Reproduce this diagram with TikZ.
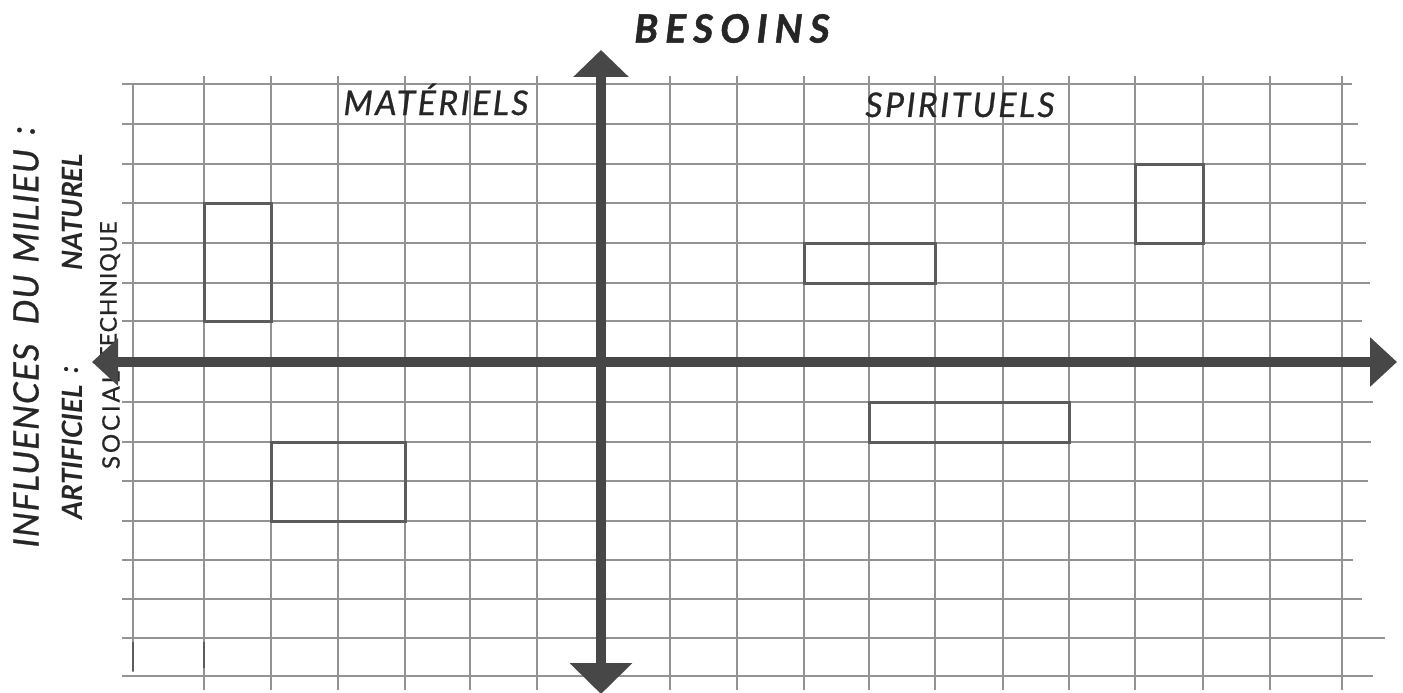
\documentclass[tikz,border=0pt]{standalone}
\usepackage{fontspec}
\setmainfont{Lato}
\newfontfamily\medfont[FakeBold=0.7]{Lato}
\newfontfamily\heavyfont[FakeBold=1.2]{Lato}
\usetikzlibrary{arrows.meta}
\definecolor{gridc}{HTML}{939393}
\definecolor{boxc}{HTML}{5C5C5C}
\definecolor{axisc}{HTML}{474747}
\definecolor{inkc}{HTML}{262626}
\newcommand{\fsz}[1]{\fontsize{#1}{#1}\selectfont}
\begin{document}
\begin{tikzpicture}[x=1pt,y=-1pt,
  gridline/.style={draw=gridc,line width=1.2pt},
  boxline/.style={draw=boxc,line width=3pt},
  axisline/.style={draw=axisc,line width=10pt},
  txt/.style={inner sep=0pt,text=inkc},
  bigit/.style={txt,font=\medfont\fsz{35}\itshape\addfontfeature{LetterSpace=3},rotate=90},
  midbi/.style={txt,font=\fsz{28}\bfseries\itshape,rotate=90},
  smallup/.style={txt,font=\medfont\fsz{23}\addfontfeature{LetterSpace=4},rotate=90},
  head/.style={txt,font=\medfont\fsz{34}\itshape\addfontfeature{LetterSpace=7},anchor=base}]
\useasboundingbox (0,0) rectangle (1403,693);
\fill[white] (0,0) rectangle (1403,693);
% grid
\foreach \y/\r in {84/1352,124/1358,164/1366,203/1366,243/1366,283/1370,321/1362,402/1373,442/1371,481/1368,521/1366,560/1353,599/1362,638/1385,676/1373}
  \draw[gridline] (122,\y) -- (\r,\y);
\foreach \x in {204,271,338,405,470,537,670,737,804,869,935,1003,1069,1135,1203,1270,1342}
  \draw[gridline] (\x,76) -- (\x,690);
\draw[gridline] (133,84) -- (133,672);
\draw[boxc,line width=2pt] (133,642) -- (133,671);
\draw[boxc,line width=2pt] (204,642) -- (204,668);
% boxes
\draw[boxline] (204,203) rectangle (271,321);
\draw[boxline] (271,442) rectangle (405,521);
\draw[boxline] (804,243) rectangle (935,283);
\draw[boxline] (1135,164) rectangle (1203,243);
\draw[boxline] (869,402) rectangle (1069,442);
% texts
\node[txt,font=\heavyfont\fsz{39}\bfseries\itshape] (besoins) at (732,28.5)
  {B\kern7pt E\kern7pt S\kern7pt O\kern7pt I\kern7pt N\kern7pt S};
\node[head] (mat) at (436,115) {MATÉRIELS};
\node[head] (spi) at (960,117) {SPIRITUELS};
\node[bigit] (infl) at (26,445.5) {INFLUENCES};
\node[bigit] (du) at (26,299.5) {DU};
\node[bigit] (milieu) at (26,206) {MILIEU};
\node[bigit] (col1) at (26,130.5) {:};
\node[midbi] (nat) at (72,212) {NATUREL};
\node[midbi] (art) at (72,452) {ARTIFICIEL};
\node[midbi] (col2) at (72,370) {:};
\node[smallup,font=\medfont\fsz{24}\addfontfeature{LetterSpace=12}] (soc) at (111,420) {SOCIAL};
\node[smallup] (tech) at (110,291) {TECHNIQUE};
% axes
\coordinate (O) at (601,362);
\coordinate (T) at (601,50);
\coordinate (B) at (601,694);
\coordinate (L) at (92,362);
\coordinate (R) at (1397,362);
\draw[axisline,-{Triangle[length=27pt,width=54pt]}] (O) -- (T);
\draw[axisline,-{Triangle[length=31pt,width=61pt]}] (O) -- (B);
\draw[axisline,-{Triangle[length=26pt,width=46pt]}] (O) -- (L);
\draw[axisline,-{Triangle[length=27pt,width=48pt]}] (O) -- (R);
\end{tikzpicture}
\end{document}
